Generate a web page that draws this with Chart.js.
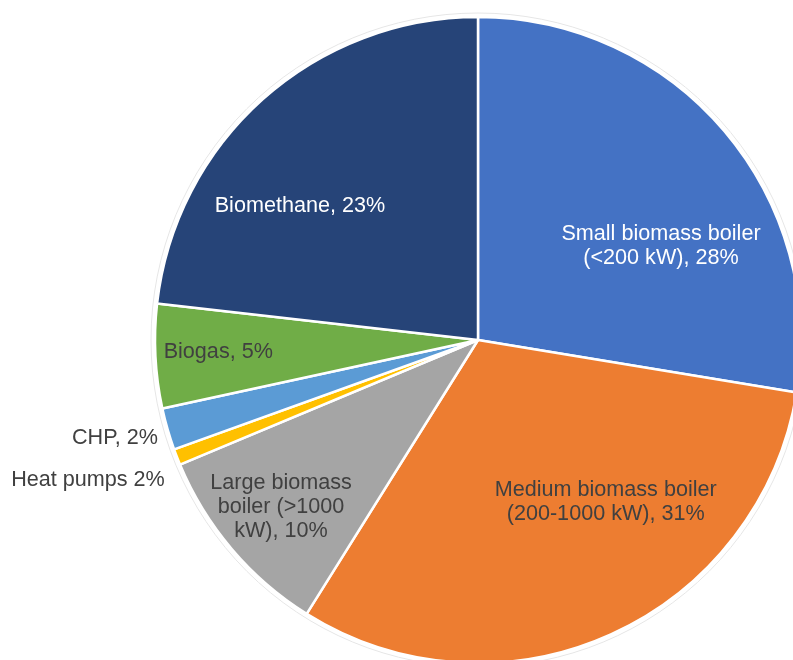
<!DOCTYPE html>
<html>
<head>
<meta charset="utf-8">
<script src="https://cdn.jsdelivr.net/npm/chart.js@4/dist/chart.umd.min.js"></script>
<style>
  html, body { margin: 0; padding: 0; background: #fff; overflow: hidden; }
  #wrap { position: absolute; left: 0; top: 0; width: 793px; height: 660px; overflow: hidden; }
  canvas { position: absolute; left: 0; top: 0; }
</style>
</head>
<body>
<div id="wrap"><canvas id="pie" width="956" height="680"></canvas></div>
<script>
const categories = [
  "Small biomass boiler",
  "Medium biomass boiler",
  "Large biomass boiler",
  "Heat pumps",
  "CHP",
  "Biogas",
  "Biomethane"
];
const shares = [27.6, 31.3, 9.8, 0.8, 2.1, 5.2, 23.2];
const labelLines = [
  ["Small biomass boiler", "(<200 kW), 28%"],
  ["Medium biomass boiler", "(200-1000 kW), 31%"],
  ["Large biomass", "boiler (>1000", "kW), 10%"],
  ["Heat pumps 2%"],
  ["CHP, 2%"],
  ["Biogas, 5%"],
  ["Biomethane, 23%"]
];
const sliceColors = ["#4472C4", "#ED7D31", "#A5A5A5", "#FFC000", "#5B9BD5", "#70AD47", "#264478"];
const textColors = ["#ffffff", "#404040", "#404040", "#404040", "#404040", "#404040", "#ffffff"];

// where each label sits: r = fraction of radius, a = fraction along the slice, right = right aligned outside
const labelPlace = [
  { r: 0.637, a: 0.632 },
  { r: 0.64, a: 0.377 },
  { r: 0.80, a: 0.50 },
  { r: 1.062, a: -0.48, right: true },
  { r: 1.036, a: 0.37, right: true },
  { r: 0.805, a: 0.51 },
  { r: 0.69, a: 0.365 }
];

const pieLabels = {
  id: "pieLabels",
  beforeDatasetsDraw(chart) {
    const arc = chart.getDatasetMeta(0).data[0];
    const ctx = chart.ctx;
    ctx.save();
    ctx.beginPath();
    ctx.arc(arc.x, arc.y, arc.outerRadius + 4, 0, Math.PI * 2);
    ctx.strokeStyle = "#e6e6e6";
    ctx.lineWidth = 1;
    ctx.stroke();
    ctx.restore();
  },
  afterDatasetsDraw(chart) {
    const ctx = chart.ctx;
    const arcs = chart.getDatasetMeta(0).data;
    ctx.save();
    ctx.font = "21.6px 'Liberation Sans', Arial, sans-serif";
    ctx.textBaseline = "middle";
    const lineH = 24;
    arcs.forEach((arc, i) => {
      const p = labelPlace[i];
      const ang = arc.startAngle + p.a * (arc.endAngle - arc.startAngle);
      const x = arc.x + Math.cos(ang) * arc.outerRadius * p.r;
      const y = arc.y + Math.sin(ang) * arc.outerRadius * p.r;
      const lines = labelLines[i];
      ctx.fillStyle = textColors[i];
      ctx.textAlign = p.right ? "right" : "center";
      const y0 = y - (lines.length - 1) * lineH / 2;
      lines.forEach((t, k) => ctx.fillText(t, x, y0 + k * lineH));
    });
    ctx.restore();
  }
};

new Chart(document.getElementById("pie"), {
  type: "pie",
  data: {
    labels: categories,
    datasets: [{
      data: shares,
      backgroundColor: sliceColors,
      borderColor: "#ffffff",
      borderWidth: 2.5,
      radius: 323
    }]
  },
  options: {
    responsive: false,
    animation: false,
    layout: { padding: 17 },
    plugins: {
      legend: { display: false },
      tooltip: { enabled: false }
    }
  },
  plugins: [pieLabels]
});
</script>
</body>
</html>
